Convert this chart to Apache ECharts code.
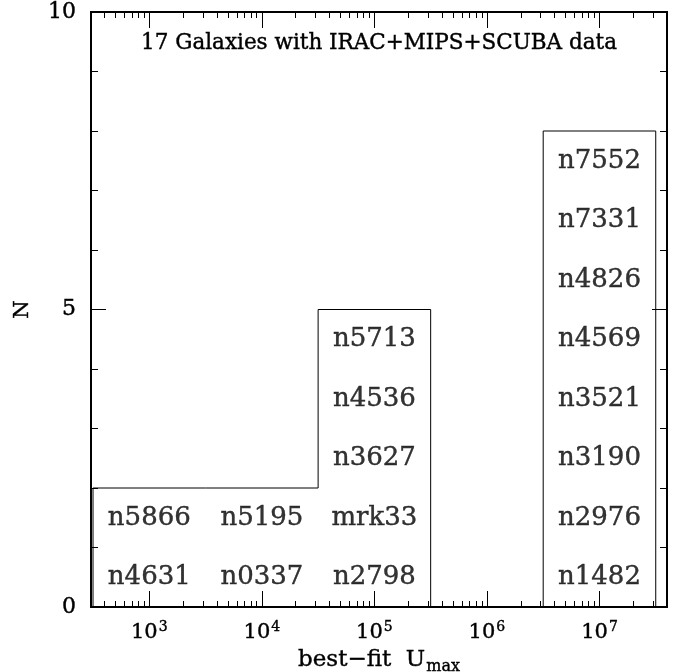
<!DOCTYPE html>
<html>
<head>
<meta charset="utf-8">
<script src="https://cdn.jsdelivr.net/npm/echarts@6/dist/echarts.min.js"></script>
<style>
html, body { margin: 0; padding: 0; background: #fff; }
#chart { width: 675px; height: 672px; }
</style>
</head>
<body>
<div id="chart"></div>
<script>
// histogram of best-fit Umax, bins in log10(Umax)
var binEdges = [2.5, 3.5, 4.5, 5.5, 6.5, 7.5];
var counts = [2, 2, 5, 0, 8];
var galaxies = [
    ['n4631', 'n5866'],
    ['n0337', 'n5195'],
    ['n2798', 'mrk33', 'n3627', 'n4536', 'n5713'],
    [],
    ['n1482', 'n2976', 'n3190', 'n3521', 'n4569', 'n4826', 'n7331', 'n7552']
];
var xMajor = [3, 4, 5, 6, 7];
var xRange = [2.482, 7.6];
var yRange = [0, 10];
var titleText = '17 Galaxies with IRAC+MIPS+SCUBA data';

var FONT = 'DejaVu Serif';
var INK = { color: '#000', textBorderColor: '#000', textBorderWidth: 0.4 };

// minor ticks at k * 10^n
var xMinor = [];
for (var n = 2; n <= 7; n++) {
    for (var k = 2; k <= 9; k++) {
        var v = n + Math.log10(k);
        if (v > xRange[0] && v < xRange[1]) xMinor.push(v);
    }
}

// step outline of the histogram
var outline = [[binEdges[0], 0]];
counts.forEach(function (c, i) {
    outline.push([binEdges[i], c]);
    outline.push([binEdges[i + 1], c]);
});
outline.push([binEdges[binEdges.length - 1], 0]);

// names stacked inside each bin
var nameData = [];
galaxies.forEach(function (list, i) {
    var center = (binEdges[i] + binEdges[i + 1]) / 2;
    list.forEach(function (g, j) {
        nameData.push([center, j + 0.5, g]);
    });
});

function xAxisDef(pos, ticks, len, labels) {
    return {
        type: 'value',
        position: pos,
        min: xRange[0],
        max: xRange[1],
        splitLine: { show: false },
        axisLine: { show: true, onZero: false, lineStyle: { color: '#000', width: 2 } },
        axisTick: { show: true, inside: true, length: len, customValues: ticks,
            lineStyle: { color: '#000', width: 1 } },
        axisLabel: labels ? {
            show: true,
            customValues: xMajor,
            margin: 13,
            formatter: function (v) { return '{b|10}{s|' + v + '}'; },
            rich: {
                b: Object.assign({ fontFamily: FONT, fontSize: 21 }, INK),
                s: Object.assign({ fontFamily: FONT, fontSize: 14, padding: [0, 0, 11, 1] }, INK)
            }
        } : { show: false }
    };
}

function yAxisDef(pos, labels) {
    return {
        type: 'value',
        position: pos,
        min: yRange[0],
        max: yRange[1],
        interval: 5,
        splitLine: { show: false },
        axisLine: { show: true, onZero: false, lineStyle: { color: '#000', width: 2 } },
        axisTick: { show: true, inside: true, length: 15, lineStyle: { color: '#000', width: 1 } },
        minorTick: { show: true, splitNumber: 5, length: 7, lineStyle: { color: '#000', width: 1 } },
        axisLabel: Object.assign({ show: labels, margin: 15, fontFamily: FONT, fontSize: 22 }, INK),
        name: labels ? 'N' : '',
        nameLocation: 'middle',
        nameGap: 58,
        nameTextStyle: Object.assign({ fontFamily: FONT, fontSize: 21 }, INK)
    };
}

var chart = echarts.init(document.getElementById('chart'));

var xBottom = xAxisDef('bottom', xMajor, 16, true);
xBottom.name = '{n|best\u2212fit  U}{sub|max}';
xBottom.nameLocation = 'middle';
xBottom.nameGap = 35;
xBottom.nameTextStyle = {
    rich: {
        n: Object.assign({ fontFamily: FONT, fontSize: 23 }, INK),
        sub: Object.assign({ fontFamily: FONT, fontSize: 16, padding: [14, 0, 0, 1] }, INK)
    }
};

var option = {
    animation: false,
    backgroundColor: '#fff',
    grid: { left: 91, right: 8, top: 12, bottom: 65, outerBoundsMode: 'none', containLabel: false },
    xAxis: [
        xBottom,
        xAxisDef('bottom', xMinor, 6, false),
        xAxisDef('top', xMajor, 16, false),
        xAxisDef('top', xMinor, 6, false)
    ],
    yAxis: [yAxisDef('left', true), yAxisDef('right', false)],
    graphic: [{
        type: 'text',
        x: 379,
        y: 43,
        style: {
            text: titleText,
            fontFamily: FONT,
            fontSize: 21.5,
            fill: '#000',
            stroke: '#000',
            lineWidth: 0.4,
            textAlign: 'center',
            textVerticalAlign: 'middle'
        }
    }],
    series: [
        {
            type: 'line',
            data: outline,
            symbol: 'none',
            lineStyle: { color: '#000', width: 1 },
            xAxisIndex: 0,
            yAxisIndex: 0
        },
        {
            type: 'scatter',
            data: nameData,
            symbolSize: 1,
            itemStyle: { color: 'rgba(0,0,0,0)' },
            label: Object.assign({
                show: true,
                position: 'inside',
                offset: [0, 4],
                formatter: function (p) { return p.data[2]; },
                fontFamily: FONT,
                fontSize: 26
            }, INK),
            labelLayout: { hideOverlap: false },
            xAxisIndex: 0,
            yAxisIndex: 0
        }
    ]
};

chart.setOption(option);
</script>
</body>
</html>
